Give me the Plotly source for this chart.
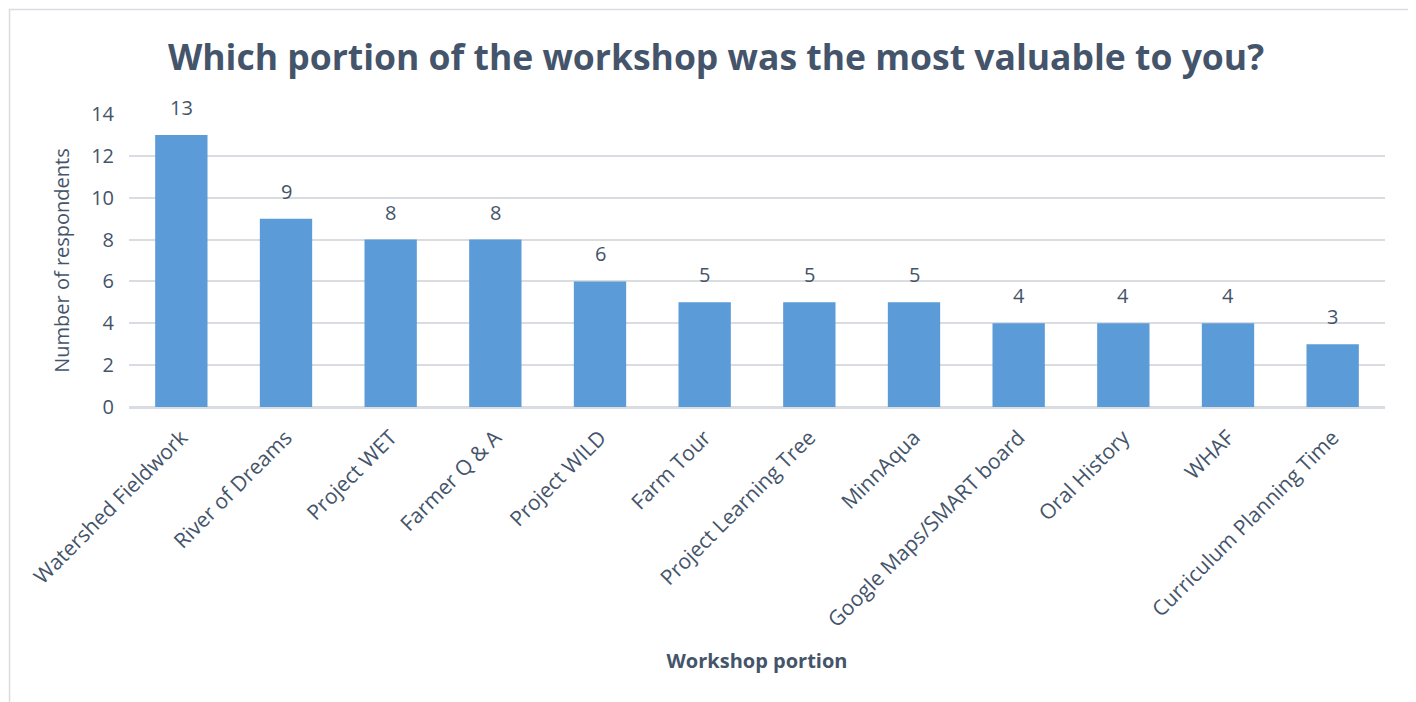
import plotly.graph_objects as go

# Datos
portions = ['Watershed Fieldwork', 'River of Dreams', 'Project WET', 'Farmer Q & A',
            'Project WILD', 'Farm Tour', 'Project Learning Tree', 'MinnAqua',
            'Google Maps/SMART board', 'Oral History', 'WHAF', 'Curriculum Planning Time']
respondents = [13, 9, 8, 8, 6, 5, 5, 5, 4, 4, 4, 3]
y_ticks = [0, 2, 4, 6, 8, 10, 12, 14]

text_color = '#44546A'
grid_color = '#D9DCE1'

fig = go.Figure()

fig.add_trace(go.Bar(
    x=portions, y=respondents,
    marker=dict(color='#5A9BD8', line=dict(width=0)),
    width=0.5,
))

# Etiquetas de valor encima de cada barra
for p, v in zip(portions, respondents):
    fig.add_annotation(x=p, y=v, text=str(v), showarrow=False,
                       yanchor='bottom', yshift=12,
                       font=dict(size=20, color=text_color))

fig.update_layout(
    width=1416, height=702,
    font=dict(family='Open Sans', color=text_color),
    title=dict(text='<b>Which portion of the workshop was the most valuable to you?</b>',
               x=0.5, xanchor='center', y=0.93, yanchor='middle',
               font=dict(size=35.5, color=text_color)),
    plot_bgcolor='white', paper_bgcolor='white',
    margin=dict(l=121, r=39, t=106, b=303),
    showlegend=False,
    xaxis=dict(
        tickangle=-45, tickfont=dict(size=21, color=text_color),
        ticklabelstandoff=8,
        title=dict(text='<b>Workshop portion</b>', font=dict(size=20, color=text_color),
                   standoff=22),
        showgrid=False, showline=True, linecolor=grid_color, linewidth=2,
        ticks='',
    ),
    yaxis=dict(
        range=[0, 14], tickvals=y_ticks,
        tickfont=dict(size=20, color=text_color),
        ticklabelstandoff=14,
        title=dict(text='Number of respondents', font=dict(size=20, color=text_color),
                   standoff=16),
        gridcolor=grid_color, gridwidth=1.5,
        zeroline=True, zerolinecolor=grid_color, zerolinewidth=2,
        ticks='',
    ),
    shapes=[dict(type='rect', xref='paper', yref='paper',
                 x0=-0.0951, x1=1.022, y0=-1.02, y1=1.3567,
                 line=dict(color=grid_color, width=1.5), fillcolor='rgba(0,0,0,0)',
                 layer='below')],
)

fig.write_html('out.html')
